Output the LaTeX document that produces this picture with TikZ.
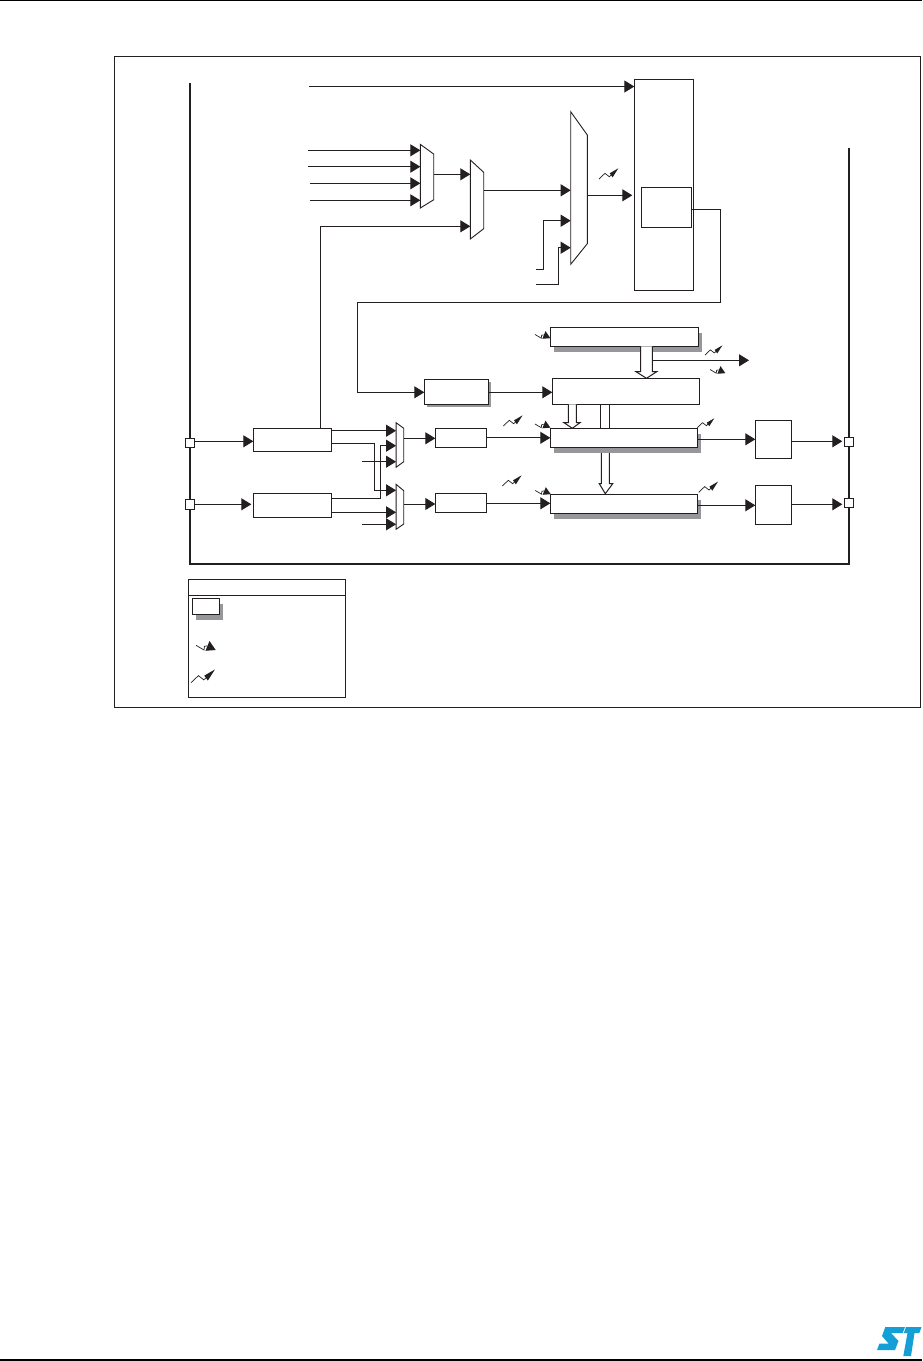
\documentclass[tikz,border=0pt]{standalone}
\usepackage{xcolor}
\usepackage{tikz}
\usetikzlibrary{arrows.meta, calc, shadows}
\definecolor{mydark}{RGB}{35,31,32}
\definecolor{myshadow}{RGB}{150,150,155}
\definecolor{myblue}{RGB}{20,160,215}
\newcommand{\muxshape}[3]{\draw[muxline] (#1.north west) -- ($(#1.north east)+(0,#2)$) -- ($(#1.south east)+(0,-#3)$) -- (#1.south west) -- cycle;}
\tikzset{
  block/.style={rectangle, draw=mydark, fill=white, line width=1pt, inner sep=0pt, outer sep=0pt},
  shadowblock/.style={block, drop shadow={shadow xshift=3.5pt, shadow yshift=-5.5pt, fill=myshadow, opacity=1}},
  smallshadow/.style={block, drop shadow={shadow xshift=2.4pt, shadow yshift=-2.4pt, fill=myshadow, opacity=1}},
  muxbox/.style={rectangle, inner sep=0pt, outer sep=0pt},
  muxline/.style={draw=mydark, fill=white, line width=0.9pt},
  pinbox/.style={block, minimum width=9.4pt, minimum height=9.4pt},
  arrow/.style={-{Triangle[length=10pt, width=12pt]}, line width=1pt, color=mydark},
  line/.style={line width=1pt, color=mydark},
  bus/.style={line width=2.2pt, color=mydark},
  hollow/.style={draw=mydark, fill=white, line width=1pt},
  trigup/.pic={
    \draw[mydark, line width=0.7pt] (0,0) -- (6,-5.7) -- (10.3,-2.3) -- (14,-5.5);
    \fill[mydark] (19.3,-10.7) -- (10.7,-5.7) -- (13.6,-1.7) -- cycle;
  },
  trigdown/.pic={
    \draw[mydark, line width=0.7pt] (0,0) -- (8,4.7) -- (8.5,1) -- (11,0.5);
    \fill[mydark] (13.5,-4.3) -- (19.7,4.7) -- (9.5,5.5) -- (11.5,0.5) -- cycle;
  }
}
\begin{document}
\begin{tikzpicture}[x=1pt, y=-1pt]
  \useasboundingbox (0,0) rectangle (922,1361);

  % Page rules and outer frame
  \coordinate (ruleal) at (0,0.7);
  \coordinate (ruleat) at (922,0.7);
  \coordinate (rulebl) at (0,1360);
  \coordinate (rulebr) at (922,1360);
  \draw[line width=1.4pt, black] (ruleal) -- (ruleat);
  \draw[line width=1.2pt, black] (rulebl) -- (rulebr);
  \node[block, minimum width=806pt, minimum height=651pt] (frame) at (517.4,381.9) {};

  % Bus
  \coordinate (busl) at (190,83);
  \coordinate (busr) at (849,148);
  \draw[bus, line join=miter] (busl) -- (190,563.7) -- (849,563.7) -- (busr);

  % Mode block
  \node[block, minimum width=59pt, minimum height=211pt] (bigbox) at (663.8,184.8) {};
  \node[block, minimum width=50.4pt, minimum height=40pt] (innerbox) at (666.5,207.3) {};

  % Multiplexers
  \node[muxbox, minimum width=13.4pt, minimum height=63.7pt] (muxa) at (427,176.2) {};
  \node[muxbox, minimum width=13.4pt, minimum height=79pt] (muxb) at (477,199.5) {};
  \node[muxbox, minimum width=16.6pt, minimum height=152.6pt] (muxc) at (579,188) {};
  \node[muxbox, minimum width=7.7pt, minimum height=44.6pt] (muxd) at (399.9,445) {};
  \node[muxbox, minimum width=7.7pt, minimum height=45pt] (muxe) at (399.9,506.8) {};
  \muxshape{muxa}{9.7}{8.3}
  \muxshape{muxb}{12.3}{10.3}
  \muxshape{muxc}{23.3}{20.6}
  \muxshape{muxd}{5.6}{5.6}
  \muxshape{muxe}{6.4}{5.3}

  % Source lines into the multiplexers
  \coordinate (srca) at (308,150.3);
  \coordinate (srcb) at (308,166.7);
  \coordinate (srcc) at (310,183.3);
  \coordinate (srcd) at (310,200.3);
  \coordinate (srce) at (309,86.5);
  \coordinate (srcf) at (536,269.3);
  \coordinate (srcg) at (536,284.3);
  \coordinate (srch) at (362,461.7);
  \coordinate (srci) at (362,524.3);
  \draw[arrow] (srce) -- (bigbox.west |- srce);
  \draw[arrow] (srca) -- (muxa.west |- srca);
  \draw[arrow] (srcb) -- (muxa.west |- srcb);
  \draw[arrow] (srcc) -- (muxa.west |- srcc);
  \draw[arrow] (srcd) -- (muxa.west |- srcd);
  \draw[arrow] (muxa.east |- 0,174.3) -- (muxb.west |- 0,174.3);
  \draw[arrow] (muxb.east |- 0,190.3) -- (muxc.west |- 0,190.3);
  \draw[arrow] (srcf) -- (543.3,269.3) -- (543.3,220.7) -- (muxc.west |- 0,220.7);
  \draw[arrow] (srcg) -- (558.3,284.3) -- (558.3,247.7) -- (muxc.west |- 0,247.7);
  \draw[arrow, shorten >=2pt] (muxc.east |- 0,195.3) -- (bigbox.west |- 0,195.3);

  % Feedback to prescaler
  \node[smallshadow, minimum width=64.4pt, minimum height=25.4pt] (pscbox) at (456.5,392) {};
  \draw[arrow] (innerbox.east |- 0,209.3) -- (720.7,209.3) -- (720.7,302.3) -- (357.3,302.3) -- (357.3,392.3) -- (pscbox.west |- 0,392.3);

  % Counter, auto-reload and compare registers
  \node[block, minimum width=147pt, minimum height=26pt] (cntbox) at (625.8,391.3) {};
  \draw[arrow] (pscbox.east |- 0,392.3) -- (cntbox.west |- 0,392.3);
  \draw[line] (cntbox.south -| 600.3,0) -- (600.3,428.3);
  \draw[line] (cntbox.south -| 609.3,0) -- (609.3,428.3);
  \draw[hollow] (568.3,404.3) -- (568.3,422.7) -- (564,422.7) -- (572.3,428.3) -- (580,422.7) -- (576.3,422.7) -- (576.3,404.3);
  \node[shadowblock, minimum width=148pt, minimum height=19pt] (arrbox) at (624.3,336.8) {};
  \node[shadowblock, minimum width=147pt, minimum height=19pt] (ccrone) at (623.8,437.8) {};
  \node[shadowblock, minimum width=147.4pt, minimum height=19pt] (ccrtwo) at (624,503.8) {};
  \draw[hollow] (arrbox.south -| 640.7,0) -- (640.7,371.7) -- (636,371.7) -- (646.5,378.3) -- (656.7,371.7) -- (652.3,371.7) -- (arrbox.south -| 652.3,0);
  \draw[hollow] (601.3,453) -- (601.3,483.7) -- (599.3,483.7) -- (605.3,493.7) -- (612.7,483.7) -- (609.3,483.7) -- (609.3,453);
  \coordinate (updout) at (749,360.3);
  \draw[arrow] (652.3,360.3) -- (updout);

  % Filters
  \node[block, minimum width=51.4pt, minimum height=19pt] (fltone) at (461,437.8) {};
  \node[block, minimum width=51.4pt, minimum height=19pt] (flttwo) at (461,502.8) {};
  \draw[arrow] (fltone.east) -- (ccrone.west);
  \draw[arrow] (flttwo.east |- 0,503.3) -- (ccrtwo.west |- 0,503.3);
  \draw[arrow] (muxd.east |- 0,438.3) -- (fltone.west |- 0,438.3);
  \draw[arrow] (muxe.east |- 0,504) -- (flttwo.west |- 0,504);

  % Output stages
  \node[block, minimum width=36.4pt, minimum height=38pt] (outone) at (773.5,439.3) {};
  \node[block, minimum width=36.4pt, minimum height=39pt] (outtwo) at (773.5,504.8) {};
  \node[pinbox] (pinrone) at (849,442) {};
  \node[pinbox] (pinrtwo) at (849,503) {};
  \draw[arrow] (ccrone.east |- 0,439.3) -- (outone.west |- 0,439.3);
  \draw[arrow] (ccrtwo.east |- 0,505.3) -- (outtwo.west |- 0,505.3);
  \draw[arrow, shorten >=2pt] (outone.east |- 0,441.3) -- (pinrone.west |- 0,441.3);
  \draw[arrow, shorten >=2pt] (outtwo.east |- 0,504.3) -- (pinrtwo.west |- 0,504.3);

  % Input stages
  \node[block, minimum width=78.4pt, minimum height=23pt] (tione) at (292.5,439.8) {};
  \node[block, minimum width=78.4pt, minimum height=24pt] (titwo) at (292.5,505.3) {};
  \node[pinbox] (pinlone) at (190,443) {};
  \node[pinbox] (pinltwo) at (190,504.3) {};
  \draw[arrow] (pinlone.east |- 0,441.3) -- (tione.west |- 0,441.3);
  \draw[arrow, shorten >=2pt] (pinltwo.east) -- (titwo.west |- pinltwo.east);
  \draw[arrow] (tione.north -| 320.3,0) -- (320.3,226.3) -- (muxb.west |- 0,226.3);
  \draw[arrow] (tione.east |- 0,430.7) -- (muxd.west |- 0,430.7);
  \draw[arrow] (tione.east |- 0,443.3) -- (374.3,443.3) -- (374.3,490.3) -- (muxe.west |- 0,490.3);
  \draw[arrow] (titwo.east |- 0,498.3) -- (380.7,498.3) -- (380.7,445.7) -- (muxd.west |- 0,445.7);
  \draw[arrow] (titwo.east |- 0,512.3) -- (muxe.west |- 0,512.3);
  \draw[arrow] (srch) -- (muxd.west |- srch);
  \draw[arrow] (srci) -- (muxe.west |- srci);

  % Event and interrupt marks
  \pic at (599,179) {trigup};
  \pic[scale=0.9] at (705,355) {trigup};
  \pic[scale=0.88] at (697.3,427.7) {trigup};
  \pic at (698.7,492.3) {trigup};
  \pic at (503.3,426) {trigup};
  \pic at (502.3,486) {trigup};
  \pic[scale=0.78] at (535,334.5) {trigdown};
  \pic[scale=0.78] at (710,369.5) {trigdown};
  \pic[scale=0.78] at (535,424) {trigdown};
  \pic[scale=0.78] at (535.3,490.5) {trigdown};

  % Key
  \node[block, minimum width=157pt, minimum height=118pt] (keybox) at (266.8,638.3) {};
  \node[block, minimum width=157pt, minimum height=15.8pt] (keyhead) at (266.8,587.2) {};
  \node[shadowblock, minimum width=27.4pt, minimum height=16pt] (keyreg) at (206,606.3) {};
  \pic at (196,645.3) {trigdown};
  \pic[scale=1.24] at (191,682.7) {trigup};

  % Logo
  \fill[myblue] (885.3,1327) -- (905,1327) -- (902.7,1333) -- (891,1333) -- (898.5,1341) -- (895,1350) -- (877,1350) -- (879.5,1343.5) -- (888.5,1343.5) -- (882,1336) -- cycle;
  \fill[myblue] (906,1327) -- (921.5,1327) -- (919.3,1333) -- (914.5,1333) -- (911,1356) -- (903.3,1356) -- (907.5,1333) -- (903.8,1333) -- cycle;
\end{tikzpicture}
\end{document}
